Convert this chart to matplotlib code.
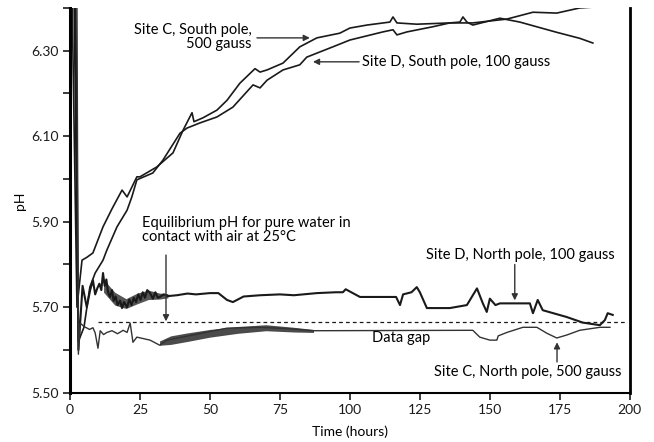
import matplotlib
matplotlib.use("Agg")
import matplotlib.pyplot as plt

plt.rcParams['font.family'] = ['Lato', 'DejaVu Sans']

# ---- data ----
c_south_x = [0.8, 2.5, 4.3, 6.1, 8.2, 11.8, 15, 18.6, 20.4, 23.9, 25, 31, 36.8, 40.4, 43.6, 44.3, 47.5, 52.5, 56.1,
             60.7, 66.1, 67.9, 70.4, 76.1, 82.1, 88.2, 96.4, 100, 106.1, 114.3, 115.4, 116.8, 123.9, 135.7, 139.3,
             140.4, 141.8, 143.9, 153.6, 160.7, 173.9, 182.1, 186.8]
c_south_y = [6.40, 5.70, 5.81, 5.817, 5.827, 5.888, 5.93, 5.974, 5.958, 6.005, 6.005, 6.028, 6.061, 6.114, 6.155,
             6.134, 6.143, 6.161, 6.184, 6.224, 6.258, 6.250, 6.255, 6.271, 6.309, 6.330, 6.341, 6.353, 6.360,
             6.367, 6.379, 6.365, 6.362, 6.365, 6.367, 6.379, 6.367, 6.360, 6.376, 6.367, 6.343, 6.329, 6.318]

d_south_x = [1.5, 3.0, 5.0, 7.1, 9, 11.8, 13.2, 16.8, 20.4, 22.1, 23.9, 29.6, 33.2, 39.3, 41.8, 46.4, 52.5, 58.2,
             65.4, 67.9, 70.4, 76.1, 82.1, 84.6, 93.9, 100, 111.8, 115.4, 116.8, 120.4, 129.6, 135.7, 143.9, 156.1,
             165.4, 173.9, 182.1, 186.8]
d_south_y = [6.40, 5.62, 5.653, 5.747, 5.78, 5.810, 5.834, 5.888, 5.927, 5.958, 5.998, 6.014, 6.044, 6.107, 6.119,
             6.131, 6.145, 6.168, 6.220, 6.213, 6.231, 6.255, 6.267, 6.285, 6.309, 6.325, 6.344, 6.349, 6.337,
             6.344, 6.356, 6.365, 6.365, 6.374, 6.390, 6.388, 6.400, 6.402]

d_north_x = [2.0, 3.0, 4.5, 6.0, 7.2, 8.2, 9.0, 9.8, 10.5, 11.2, 11.8, 12.4, 13.0, 13.6, 14.3, 15.0, 15.6, 16.3,
             17.0, 17.9, 18.6, 19.3, 20.4, 21.2, 22.0, 22.8, 23.6, 24.4, 25.2, 26.0, 26.8, 27.6, 28.6, 29.6, 30.5,
             31.4, 32.1, 33.5, 35, 38.2, 42, 45, 50, 53, 56.1, 58.2, 62, 67.9, 75, 80, 88.2, 95, 97.5, 98.5, 103.6,
             111.8, 116.5, 117.9, 119, 122, 123.9, 125, 127.5, 135.7, 141.8, 145.4, 147.5, 148.9, 150, 152, 153.6,
             164.3, 165.4, 167.1, 168.9, 177.5, 183.2, 189.3, 191.1, 192.1, 193.9]
d_north_y = [6.40, 5.60, 5.75, 5.70, 5.74, 5.763, 5.73, 5.745, 5.755, 5.74, 5.78, 5.75, 5.765, 5.735, 5.724, 5.74,
             5.715, 5.725, 5.705, 5.715, 5.698, 5.712, 5.70, 5.718, 5.705, 5.722, 5.712, 5.73, 5.717, 5.735, 5.722,
             5.74, 5.733, 5.72, 5.735, 5.722, 5.724, 5.73, 5.726, 5.728, 5.732, 5.73, 5.733, 5.733, 5.717, 5.712,
             5.725, 5.728, 5.73, 5.728, 5.733, 5.735, 5.735, 5.742, 5.724, 5.724, 5.724, 5.705, 5.73, 5.735, 5.747,
             5.735, 5.698, 5.698, 5.705, 5.744, 5.709, 5.689, 5.72, 5.705, 5.709, 5.709, 5.686, 5.717, 5.693, 5.677,
             5.664, 5.658, 5.670, 5.686, 5.682]

c_north_x = [2.5, 3.0, 3.6, 5, 7, 8.2, 9, 10, 10.8, 12, 13.2, 15, 17, 19, 20.4, 21.5, 22.5, 23.9, 28.6, 32.1, 34.6,
             43.9, 56.1, 67.9, 78, 86.8, 143.9, 146.4, 150, 152.5, 153, 156.1, 161.8, 166.8, 170.4, 173.9, 177.5,
             182.1, 189.3, 192.9]
c_north_y = [6.40, 5.59, 5.663, 5.655, 5.648, 5.652, 5.64, 5.604, 5.645, 5.636, 5.641, 5.645, 5.638, 5.646, 5.641,
             5.663, 5.618, 5.63, 5.623, 5.611, 5.623, 5.635, 5.651, 5.653, 5.65, 5.645, 5.646, 5.63, 5.623, 5.623,
             5.633, 5.641, 5.653, 5.653, 5.639, 5.628, 5.635, 5.646, 5.653, 5.653]

# noisy band of the Site C north pole record
band_x = [32, 36, 42, 50, 60, 70, 80, 87]
band_lo = [5.611, 5.613, 5.620, 5.630, 5.639, 5.645, 5.642, 5.641]
band_hi = [5.621, 5.633, 5.640, 5.648, 5.655, 5.659, 5.653, 5.648]

# noisy band of the Site D north pole record (early hours)
d_band_x = [12, 16, 20, 24, 28, 32, 35]
d_band_lo = [5.735, 5.705, 5.697, 5.708, 5.718, 5.719, 5.722]
d_band_hi = [5.765, 5.735, 5.720, 5.733, 5.740, 5.733, 5.732]

equilibrium_ph = 5.665
equilibrium_x = [10, 199]

x_ticks = [0, 25, 50, 75, 100, 125, 150, 175, 200]
y_ticks = [5.50, 5.60, 5.70, 5.80, 5.90, 6.00, 6.10, 6.20, 6.30, 6.40]
y_tick_labels = ["5.50", "", "5.70", "", "5.90", "", "6.10", "", "6.30", ""]

# ---- figure ----
fig = plt.figure(figsize=(6.54, 4.42), dpi=100)
ax = fig.add_axes([0.107, 0.1115, 0.856, 0.8705])

ink = '#1a1a1a'
ax.plot(c_south_x, c_south_y, color=ink, lw=1.2)
ax.plot(d_south_x, d_south_y, color=ink, lw=1.2)
ax.plot(d_north_x, d_north_y, color=ink, lw=1.5)
ax.fill_between(d_band_x, d_band_lo, d_band_hi, color='#2b2b2b', alpha=0.8, lw=0)
ax.plot(c_north_x, c_north_y, color='#333333', lw=1.0)
ax.fill_between(band_x, band_lo, band_hi, color='#2b2b2b', alpha=0.85, lw=0)
ax.plot(equilibrium_x, [equilibrium_ph, equilibrium_ph], color=ink, lw=0.9, ls=(0, (3, 2.5)))

ax.set_xlim(0, 200)
ax.set_ylim(5.50, 6.40)
ax.set_xticks(x_ticks)
ax.set_yticks(y_ticks)
ax.set_yticklabels(y_tick_labels)
ax.tick_params(labelsize=10, length=5, width=1.2, colors=ink, pad=3)
ax.spines['top'].set_visible(False)
ax.spines['left'].set_linewidth(2.2)
ax.spines['right'].set_linewidth(2.0)
ax.spines['bottom'].set_linewidth(1.5)
ax.set_xlabel("Time (hours)", fontsize=10, labelpad=7)
ax.set_ylabel("pH", fontsize=10, labelpad=4)

fs = 10.5
arrow = dict(arrowstyle='-|>', color='#333333', lw=1.0, mutation_scale=9, shrinkA=0, shrinkB=0)

ax.text(65, 6.332, "Site C, South pole,\n500 gauss", ha='right', va='center', fontsize=fs, linespacing=1.0)
ax.annotate("", xy=(85.7, 6.330), xytext=(66.8, 6.330), arrowprops=arrow)

ax.text(104.3, 6.274, "Site D, South pole, 100 gauss", ha='left', va='center', fontsize=fs)
ax.annotate("", xy=(86.8, 6.274), xytext=(103.3, 6.274), arrowprops=arrow)

ax.text(25.7, 5.880, "Equilibrium pH for pure water in\ncontact with air at 25°C", ha='left', va='center',
        fontsize=fs, linespacing=1.0)
ax.annotate("", xy=(34.3, 5.667), xytext=(34.3, 5.822), arrowprops=arrow)

ax.text(194.6, 5.822, "Site D, North pole, 100 gauss", ha='right', va='center', fontsize=fs)
ax.annotate("", xy=(158.9, 5.716), xytext=(158.9, 5.800), arrowprops=arrow)

ax.text(107.9, 5.628, "Data gap", ha='left', va='center', fontsize=fs)

ax.text(197, 5.548, "Site C, North pole, 500 gauss", ha='right', va='center', fontsize=fs)
ax.annotate("", xy=(174, 5.618), xytext=(174, 5.572), arrowprops=arrow)

fig.savefig("out.png", dpi=100)
